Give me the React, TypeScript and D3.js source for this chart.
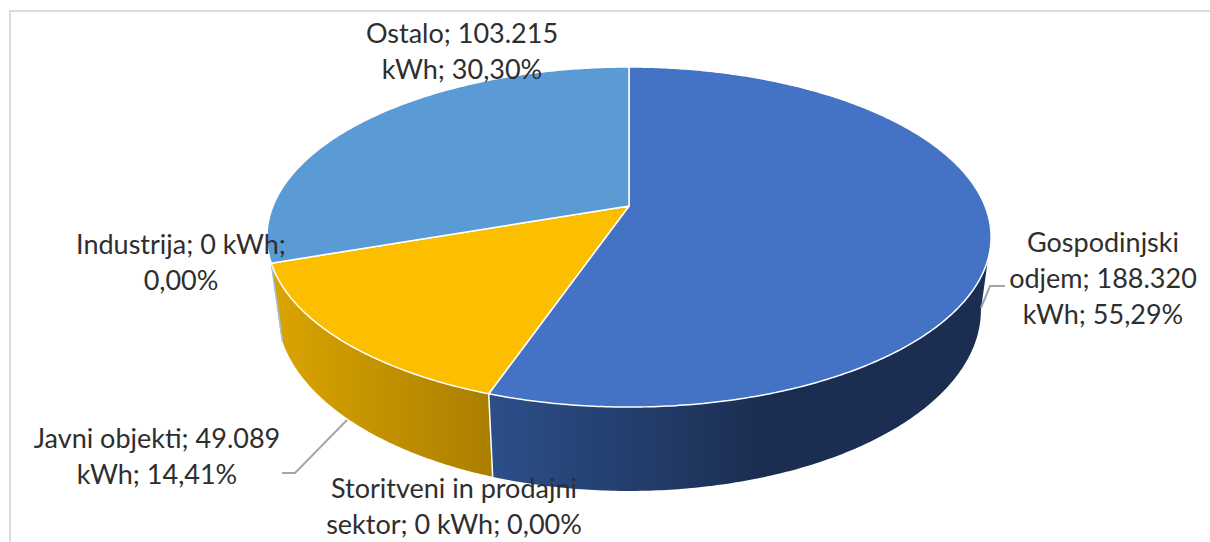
import React from "react";
import * as d3 from "d3";

const categories = ["Gospodinjski odjem", "Storitveni in prodajni sektor", "Javni objekti", "Industrija", "Ostalo"];
const values = [188320, 0, 49089, 0, 103215];
const topColors = ["#4472c4", "#ed7d31", "#fbbf00", "#a5a5a5", "#5b9bd5"];
const labelLines = [
  ["Gospodinjski", "odjem; 188.320", "kWh; 55,29%"],
  ["Storitveni in prodajni", "sektor; 0 kWh; 0,00%"],
  ["Javni objekti; 49.089", "kWh; 14,41%"],
  ["Industrija; 0 kWh;", "0,00%"],
  ["Ostalo; 103.215", "kWh; 30,30%"],
];
const labelPos = [
  [1103, 252],
  [454, 498],
  [157, 448],
  [181, 254],
  [462, 43],
];

const W = 1210;
const H = 542;
const LINE = 36;

// perspective of the pie: top face and bottom face of the disc
const tilt = -0.1824;
const topFace = { cx: 629, k: 356, a: 126.8, b: 206 };
const bottomFace = { cx: 629, k: 346, a: 124.4, b: 277 };

const project = (face, angle) => {
  const u = Math.sin(angle);
  const v = -Math.cos(angle);
  const w = 1 + tilt * v;
  return [face.cx + (face.k * u) / w, (face.a * v + face.b) / w];
};

const sweep = (face, from, to) => {
  const n = Math.max(2, Math.ceil(Math.abs(to - from) / 0.01));
  return d3.range(n + 1).map((i) => project(face, from + ((to - from) * i) / n));
};

// angle where the wall of the disc starts being visible
const wallStart = Math.PI / 2 + Math.asin(-tilt);

const line = d3.line();

export default function App() {
  const arcs = d3.pie().sort(null).value((d) => d)(values);
  const centre = [topFace.cx, topFace.b];

  const blue = arcs[0];
  const yellow = arcs[2];
  const blueWall = [...sweep(topFace, wallStart, blue.endAngle), ...sweep(bottomFace, blue.endAngle, wallStart)];
  const yellowWall = [...sweep(topFace, yellow.startAngle, yellow.endAngle), ...sweep(bottomFace, yellow.endAngle, yellow.startAngle)];

  return (
    <svg width={W} height={H} style={{ position: "absolute", left: 0, top: 0, background: "#fff" }}>
      <defs>
        <linearGradient id="blueWall" gradientUnits="userSpaceOnUse" x1="488" x2="770" y1="0" y2="0">
          <stop offset="0" stopColor="#2c4f8a" />
          <stop offset="1" stopColor="#1b2d50" />
        </linearGradient>
        <linearGradient id="yellowWall" gradientUnits="userSpaceOnUse" x1="278" x2="492" y1="0" y2="0">
          <stop offset="0" stopColor="#d9a400" />
          <stop offset="1" stopColor="#ab7e00" />
        </linearGradient>
      </defs>

      <path d={`M${W},11H10V${H}`} fill="none" stroke="#dcdcdc" strokeWidth={2} />

      <path d={line(blueWall) + "Z"} fill="url(#blueWall)" />
      <path d={line(yellowWall) + "Z"} fill="url(#yellowWall)" />
      {/* cut face of the zero slice on the left */}
      <path d={line([project(topFace, yellow.endAngle), project(bottomFace, yellow.endAngle - 0.02)])} stroke="#9dc3e6" strokeWidth={1.5} fill="none" />
      {/* seam between the two walls */}
      <path d={line([project(topFace, blue.endAngle), project(bottomFace, blue.endAngle)])} stroke="#fff" strokeWidth={1.5} fill="none" />

      {arcs.map((d, i) =>
        d.value > 0 ? (
          <path
            key={categories[i]}
            d={line([centre, ...sweep(topFace, d.startAngle, d.endAngle)]) + "Z"}
            fill={topColors[i]}
            stroke="#fff"
            strokeWidth={1.5}
            strokeLinejoin="round"
          />
        ) : null
      )}

      <path d="M981,308L990,286H1005" fill="none" stroke="#a6a6a6" strokeWidth={2} />
      <path d="M347,420L295,473H282" fill="none" stroke="#a6a6a6" strokeWidth={2} />

      {labelLines.map((lines, i) => (
        <text
          key={categories[i]}
          textAnchor="middle"
          fontFamily="Lato, 'Open Sans', sans-serif"
          fontSize={27}
          fill="#2e2e2e"
        >
          {lines.map((s, j) => (
            <tspan key={s} x={labelPos[i][0]} y={labelPos[i][1] + j * LINE}>
              {s}
            </tspan>
          ))}
        </text>
      ))}
    </svg>
  );
}
